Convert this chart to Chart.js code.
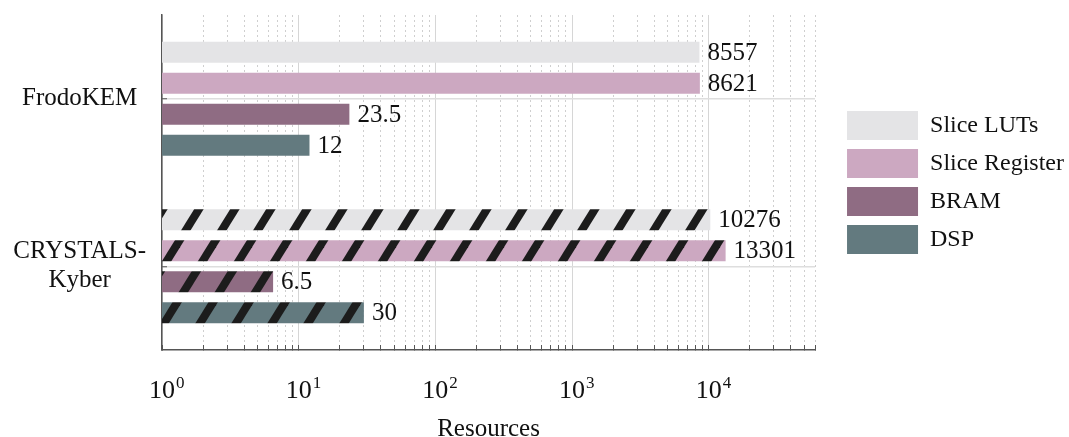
<!DOCTYPE html>
<html>
<head>
<meta charset="utf-8">
<script src="https://cdn.jsdelivr.net/npm/chart.js@4"></script>
<style>
	html, body { margin: 0; padding: 0; background: #fff; }
	#wrap { width: 1069px; height: 437px; }
</style>
</head>
<body>
<div id="wrap"><canvas id="chart"></canvas></div>
<script>
	// Categories (two KEM designs) and the resource types
	const categories = ['FrodoKEM', ['CRYSTALS-', 'Kyber']];
	const seriesNames = ['Slice LUTs', 'Slice Register', 'BRAM', 'DSP'];

	// Resource values per design: [FrodoKEM, CRYSTALS-Kyber]
	const sliceLuts = [8557, 10276];
	const sliceRegister = [8621, 13301];
	const bram = [23.5, 6.5];
	const dsp = [12, 30];

	// Log axis ticks: "10" with an exponent
	const majorTicks = [1, 10, 100, 1000, 10000];
	const majorExponents = ['0', '1', '2', '3', '4'];
	const axisMax = 60000;

	const seriesColors = ['#e4e4e6', '#cca8c1', '#8f6c83', '#637a7f'];
	const serif = "'Liberation Serif', 'Times New Roman', serif";
	const tickFontSize = 26;
	const tickLen = -5;      // inward tick marks
	const tickPadding = 31;

	// Minor ticks 2..9 for each decade, up to the axis end
	const allTicks = [];
	majorTicks.forEach(m => {
		for (let k = 1; k <= 9; k++) {
			if (m * k <= axisMax) allTicks.push(m * k);
		}
	});
	const isMajor = v => majorTicks.includes(v);

	// Diagonal black hatch over a base colour (used for the Kyber bars)
	function hatch(color) {
		const w = 36, h = 58;
		const c = document.createElement('canvas');
		c.width = w; c.height = h;
		const g = c.getContext('2d');
		g.fillStyle = color;
		g.fillRect(0, 0, w, h);
		g.fillStyle = '#1c1c1c';
		[-w, 0, w].forEach(off => {
			g.beginPath();
			g.moveTo(off, h);
			g.lineTo(off + 9.5, h);
			g.lineTo(off + 9.5 + w, 0);
			g.lineTo(off + w, 0);
			g.closePath();
			g.fill();
		});
		return g.createPattern(c, 'repeat');
	}

	// Value labels at the end of each bar
	const valueLabels = {
		id: 'valueLabels',
		afterDatasetsDraw(chart) {
			const ctx = chart.ctx;
			ctx.save();
			ctx.font = '25px ' + serif;
			ctx.fillStyle = '#111';
			ctx.textBaseline = 'middle';
			ctx.textAlign = 'left';
			chart.data.datasets.forEach((ds, i) => {
				chart.getDatasetMeta(i).data.forEach((bar, j) => {
					ctx.fillText(String(ds.data[j]), bar.x + 8, bar.y + 1);
				});
			});
			ctx.restore();
		}
	};

	// Exponents next to the "10" tick labels of the log axis
	const tickExponents = {
		id: 'tickExponents',
		afterDraw(chart) {
			const x = chart.scales.x;
			const ctx = chart.ctx;
			ctx.save();
			ctx.font = tickFontSize + 'px ' + serif;
			const half = ctx.measureText('10').width / 2;
			const yc = x.top + tickLen + tickPadding + tickFontSize * 1.2 / 2;
			ctx.font = '17px ' + serif;
			ctx.fillStyle = '#111';
			ctx.textAlign = 'left';
			ctx.textBaseline = 'middle';
			majorTicks.forEach((v, i) => {
				ctx.fillText(majorExponents[i], x.getPixelForValue(v) + half + 1, yc - 8);
			});
			ctx.restore();
		}
	};

	const seriesData = [sliceLuts, sliceRegister, bram, dsp];
	const datasets = seriesNames.map((name, i) => ({
		label: name,
		data: seriesData[i],
		backgroundColor: [seriesColors[i], hatch(seriesColors[i])],
		borderWidth: 0,
		categoryPercentage: 0.74,
		barPercentage: 0.68,
		xAxisID: 'x',
		yAxisID: 'y'
	}));

	new Chart(document.getElementById('chart'), {
		type: 'bar',
		data: { labels: categories, datasets: datasets },
		plugins: [valueLabels, tickExponents],
		options: {
			indexAxis: 'y',
			responsive: true,
			maintainAspectRatio: false,
			animation: false,
			layout: { padding: { top: 15, right: -5, bottom: 0, left: 0 } },
			plugins: {
				tooltip: { enabled: false },
				title: { display: false },
				legend: {
					position: 'right',
					fullSize: false,
					labels: {
						boxWidth: 71,
						boxHeight: 29,
						padding: 9,
						color: '#111',
						font: { family: serif, size: 24 }
					}
				}
			},
			scales: {
				x: {
					type: 'logarithmic',
					min: 1,
					max: axisMax,
					afterBuildTicks: s => { s.ticks = allTicks.map(v => ({ value: v, major: isMajor(v) })); },
					afterFit: s => { s.height = 87; },
					ticks: {
						autoSkip: false,
						maxRotation: 0,
						padding: tickPadding,
						color: '#111',
						font: { family: serif, size: tickFontSize },
						callback: v => isMajor(v) ? '10' : ''
					},
					grid: {
						drawTicks: true,
						tickLength: tickLen,
						tickColor: '#555',
						tickWidth: 1,
						color: c => (c.tick && isMajor(c.tick.value)) ? '#d6d6d6' : '#cfcfcf',
						lineWidth: 1
					},
					border: {
						display: true,
						color: '#555',
						width: 1.5,
						dash: c => (c.tick && !isMajor(c.tick.value)) ? [2, 3] : []
					},
					title: {
						display: true,
						text: 'Resources',
						color: '#111',
						font: { family: serif, size: 25, lineHeight: 1 },
						padding: { top: 0, bottom: -5 }
					}
				},
				y: {
					type: 'category',
					afterFit: s => { s.width = 162; s.paddingTop = 0; s.paddingBottom = 0; },
					ticks: {
						crossAlign: 'center',
						padding: 21,
						color: '#111',
						font: { family: serif, size: 25, lineHeight: 1.15 }
					},
					grid: {
						offset: false,
						drawTicks: true,
						tickLength: tickLen,
						tickColor: '#555',
						tickWidth: 1,
						color: '#dedede',
						lineWidth: 1.5
					},
					border: { display: true, color: '#555', width: 1.5 }
				},
				// hidden spacer between the plot and the legend
				gap: {
					type: 'linear',
					axis: 'y',
					position: 'right',
					display: false,
					afterFit: s => { s.width = 23; }
				}
			}
		}
	});
</script>
</body>
</html>
